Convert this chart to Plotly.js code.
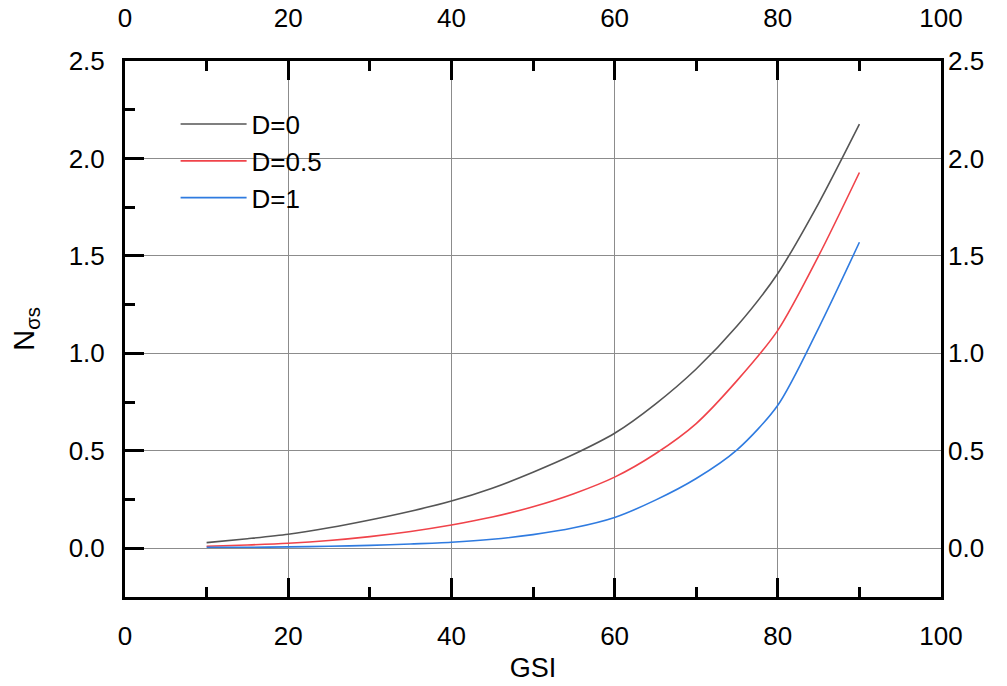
<!DOCTYPE html>
<html>
<head>
<meta charset="utf-8">
<script src="https://cdn.plot.ly/plotly-3.0.1.min.js"></script>
<style>html,body{margin:0;padding:0;background:#fff;}#chart{width:1007px;height:686px;}</style>
</head>
<body>
<div id="chart"></div>
<script>
const gsi = [10,15,20,25,30,35,40,45,50,55,60,65,70,75,80,85,90];
const nD0 = [0.029,0.049,0.072,0.105,0.145,0.190,0.242,0.308,0.390,0.482,0.590,0.740,0.920,1.140,1.410,1.770,2.176];
const nD05 = [0.010,0.017,0.026,0.040,0.060,0.086,0.119,0.160,0.213,0.280,0.365,0.485,0.640,0.860,1.118,1.500,1.928];
const nD1 = [0.005,0.005,0.007,0.010,0.015,0.022,0.031,0.046,0.070,0.105,0.158,0.247,0.358,0.505,0.734,1.130,1.570];
const seriesNames = ['D=0','D=0.5','D=1'];

const FONT = 'Liberation Sans, Arial, sans-serif';
const traces = [
  {x: gsi, y: nD0, name: seriesNames[0], line: {color: '#555555', width: 1.6, shape: 'spline', smoothing: 0.8}},
  {x: gsi, y: nD05, name: seriesNames[1], line: {color: '#f0434a', width: 1.6, shape: 'spline', smoothing: 0.8}},
  {x: gsi, y: nD1, name: seriesNames[2], line: {color: '#2f7be0', width: 1.6, shape: 'spline', smoothing: 0.8}}
].map(t => Object.assign({type: 'scatter', mode: 'lines', xaxis: 'x', yaxis: 'y'}, t));
// invisible trace to activate the top/right label axes
traces.push({type:'scatter', x:[50], y:[1], xaxis:'x2', yaxis:'y2', mode:'markers', marker:{opacity:0}, showlegend:false, hoverinfo:'skip'});

const minorX = {dtick: 10, tick0: 0, ticks: 'inside', ticklen: 10, tickwidth: 3, tickcolor: '#000', showgrid: false};
const layout = {
  width: 1007, height: 686,
  margin: {l: 125, r: 66, t: 61, b: 89},
  paper_bgcolor: '#ffffff', plot_bgcolor: '#ffffff',
  font: {family: FONT, size: 26, color: '#000'},
  showlegend: true,
  legend: {x: 0.062, y: 0.926, xanchor: 'left', yanchor: 'top', bgcolor: 'rgba(0,0,0,0)', borderwidth: 0,
           font: {family: FONT, size: 26, color: '#000'}, itemwidth: 66, tracegroupgap: 0},
  xaxis: {
    range: [0, 100], tickmode: 'linear', tick0: 0, dtick: 20,
    ticks: 'inside', ticklen: 19, tickwidth: 3, tickcolor: '#000',
    minor: minorX,
    showline: true, linewidth: 3, linecolor: '#000', mirror: true,
    showgrid: true, gridcolor: '#8c8c8c', gridwidth: 1, zeroline: false,
    title: {text: 'GSI', font: {family: FONT, size: 27}, standoff: 8},
    tickfont: {family: FONT, size: 26}, ticklabelstandoff: 14
  },
  xaxis2: {
    range: [0, 100], overlaying: 'x', side: 'top', anchor: 'y2', tickmode: 'linear', tick0: 0, dtick: 20,
    ticks: 'inside', ticklen: 19, tickwidth: 3, tickcolor: '#000',
    minor: minorX,
    showline: false, showgrid: false, zeroline: false,
    tickfont: {family: FONT, size: 26}, ticklabelstandoff: 28
  },
  yaxis: {
    range: [-0.25, 2.5], tickmode: 'linear', tick0: 0, dtick: 0.5, tickformat: '.1f',
    ticks: 'inside', ticklen: 19, tickwidth: 3, tickcolor: '#000',
    minor: {dtick: 0.25, tick0: 0, ticks: 'inside', ticklen: 10, tickwidth: 3, tickcolor: '#000', showgrid: false},
    showline: true, linewidth: 3, linecolor: '#000', mirror: true,
    showgrid: true, gridcolor: '#8c8c8c', gridwidth: 1, zeroline: false,
    title: {text: 'N<sub>σs</sub>', font: {family: FONT, size: 29}, standoff: 26},
    tickfont: {family: FONT, size: 26}, ticklabelstandoff: 12
  },
  yaxis2: {
    range: [-0.25, 2.5], overlaying: 'y', side: 'right', anchor: 'x2', tickmode: 'linear', tick0: 0, dtick: 0.5, tickformat: '.1f',
    ticks: '', showline: false, showgrid: false, zeroline: false,
    tickfont: {family: FONT, size: 26}, ticklabelstandoff: 6
  }
};
Plotly.newPlot('chart', traces, layout, {displayModeBar: false, staticPlot: true});
</script>
</body>
</html>
